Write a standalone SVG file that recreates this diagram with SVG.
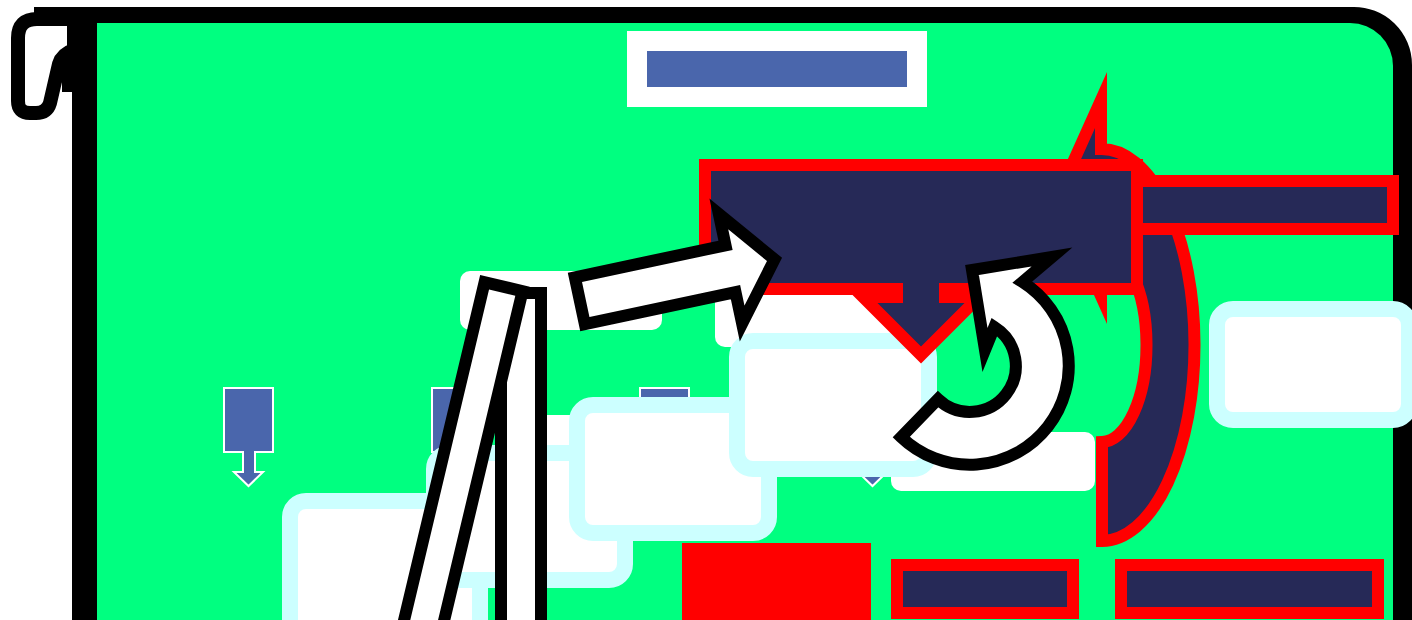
<svg xmlns="http://www.w3.org/2000/svg" width="1412" height="620" viewBox="0 0 1412 620">
<style>
.plain{fill:#ffffff;stroke:none}
.cyan{fill:#ffffff;stroke:#ccffff;stroke-width:16}
.blue{fill:#4a66ac;stroke:#ffffff;stroke-width:2}
.navy{fill:#262957;stroke:#ff0000;stroke-width:12;stroke-linejoin:miter;stroke-miterlimit:10}
.warrow{fill:#ffffff;stroke:#000000;stroke-width:12;stroke-linejoin:miter;stroke-miterlimit:10}
</style>
<rect x="0" y="0" width="1412" height="620" fill="#ffffff"/>
<g id="scroll">
<path d="M72 7 H1352 A58 58 0 0 1 1412 65 V620 H72 Z" fill="#000000"/>
<path d="M97 23 H1350 A43 43 0 0 1 1393 66 V620 H97 Z" fill="#00ff80"/>
<path d="M34 7 H97 V92 H62 V23 H34 Z" fill="#000000"/>
<path d="M18 38 Q18 19 37 19 L74 19 L74 50 Q62 54 59 64 L50 103 Q47 113 36 113 L30 113 Q18 113 18 101 Z" fill="#ffffff" stroke="#000000" stroke-width="14" stroke-linejoin="round"/>
</g>
<g id="title">
<rect x="627" y="31" width="300" height="76" fill="#ffffff"/>
<rect x="647" y="51" width="260" height="36" fill="#4a66ac"/>
</g>
<g id="callouts">
<path id="c1" class="blue" d="M224 388 H273 V452 H255 V472 H263 L248.5 486 L234 472 H243 V452 H224 Z"/>
<path id="c2" class="blue" d="M432 388 H481 V452 H463 V472 H471 L456.5 486 L442 472 H451 V452 H432 Z"/>
<path id="c3" class="blue" d="M640 388 H689 V452 H671 V472 H679 L664.5 486 L650 472 H659 V452 H640 Z"/>
<path id="c4" class="blue" d="M848 388 H897 V452 H879 V472 H887 L872.5 486 L858 472 H867 V452 H848 Z"/>
</g>
<g id="plain-boxes">
<rect id="p1" class="plain" x="460" y="271" width="202" height="59" rx="10"/>
<rect id="p2" class="plain" x="715" y="288" width="202" height="59" rx="10"/>
<rect id="p4" class="plain" x="520" y="415" width="202" height="59" rx="10"/>
<rect id="p3" class="plain" x="891" y="432" width="204" height="59" rx="10"/>
</g>
<g id="cyan-boxes">
<rect id="a" class="cyan" x="290" y="501" width="190" height="150" rx="16"/>
<rect id="b" class="cyan" x="434" y="453" width="191" height="127" rx="16"/>
<rect id="c" class="cyan" x="577" y="405" width="192" height="128" rx="16"/>
<rect id="d" class="cyan" x="737" y="341" width="192" height="128" rx="16"/>
<rect id="e" class="cyan" x="1217" y="309" width="192" height="111" rx="16"/>
</g>
<g id="bottom-row">
<rect id="red-block" x="682" y="543" width="189" height="90" fill="#ff0000"/>
<rect id="n1" class="navy" x="897" y="565" width="176" height="48"/>
<rect id="n2" class="navy" x="1121" y="565" width="257" height="48"/>
</g>
<g id="curved-arrow">
<path class="navy" d="M1057 198 L1101 100 L1101 149 A93 196 0 0 1 1102 541 L1102 442 A45 97 0 0 0 1101 248 L1101 296 Z"/>
</g>
<g id="main-box">
<path class="navy" d="M705 165 H1137 V289 H945 V297 H979 L921 355 L863 297 H897 V289 H705 Z"/>
<rect id="side-bar" class="navy" x="1137" y="181" width="256" height="48"/>
</g>
<g id="connectors">
<rect class="warrow" x="501" y="293" width="40" height="360"/>
<rect class="warrow" x="0" y="0" width="39" height="380" transform="translate(484.6 282.2) rotate(13.4)"/>
<polygon class="warrow" points="6,-24 160,-24 160,-56 205,0 160,56 160,24 6,24" transform="translate(574 302) rotate(-12)"/>
<path class="warrow" d="M901.2 437.2 A99 99 0 1 0 1022.5 282 L1052 257 L972 270 L985 350 L994.4 327 A46 46 0 1 1 938 399.1 Z"/>
</g>
</svg>
